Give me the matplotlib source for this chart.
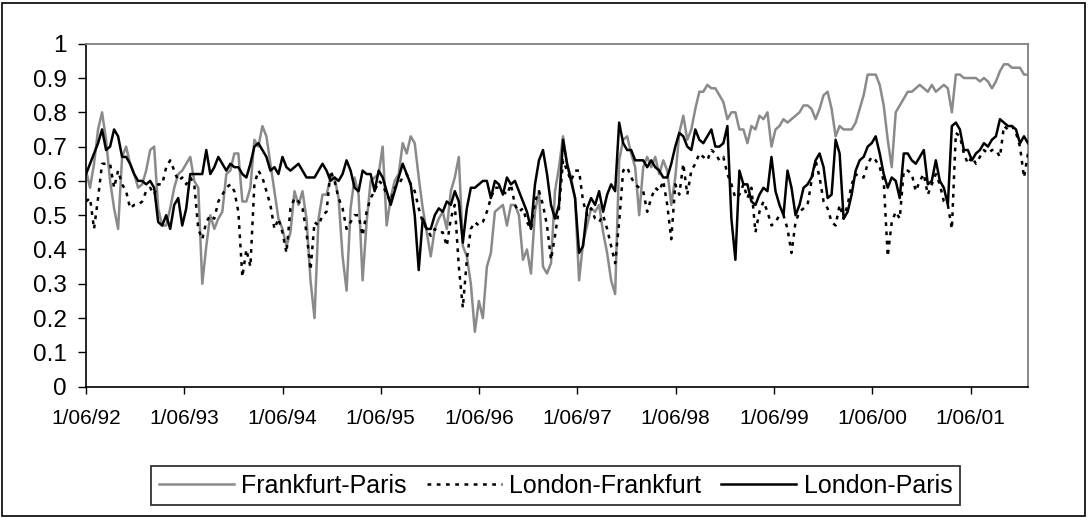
import matplotlib
matplotlib.use("Agg")
import matplotlib.pyplot as plt
from matplotlib.patches import Rectangle
import pandas as pd

plt.rcParams['font.family'] = ['Liberation Sans', 'DejaVu Sans']

# ---- data (regular time grid June 1992 - Dec 2001) ----
start_date = "1992-06-01"
end_date = "2001-12-31"

frankfurt_paris = [
    0.63,0.58,0.65,0.75,0.80,0.72,0.60,0.52,0.46,0.67,0.70,0.65,0.62,0.58,0.59,0.63,0.69,0.70,0.52,0.47,0.47,0.52,0.58,0.62,0.63,0.65,0.67,0.60,0.58,
    0.30,0.41,0.50,0.46,0.49,0.51,0.62,0.63,0.68,0.68,0.54,0.54,0.58,0.72,0.70,0.76,0.73,0.65,0.57,0.49,0.46,0.41,0.45,0.57,0.53,0.57,0.49,0.31,0.20,0.49,
    0.56,0.56,0.61,0.61,0.55,0.38,0.28,0.52,0.61,0.56,0.31,0.48,0.60,0.61,0.62,0.70,0.47,0.55,0.60,0.62,0.71,0.68,0.73,0.71,0.61,0.52,0.45,0.38,0.46,0.49,
    0.51,0.46,0.57,0.61,0.67,0.41,0.38,0.30,0.16,0.25,0.20,0.35,0.39,0.51,0.52,0.53,0.47,0.53,0.53,0.50,0.37,0.40,0.33,0.51,0.57,0.35,0.33,0.36,0.57,0.64,
    0.73,0.65,0.61,0.55,0.31,0.42,0.47,0.52,0.51,0.53,0.45,0.39,0.31,0.27,0.66,0.72,0.73,0.68,0.64,0.50,0.64,0.67,0.64,0.67,0.62,0.66,0.63,0.53,0.61,0.74,
    0.79,0.72,0.75,0.81,0.86,0.86,0.88,0.87,0.87,0.85,0.83,0.78,0.80,0.80,0.75,0.75,0.71,0.76,0.75,0.79,0.78,0.80,0.70,0.75,0.76,0.78,0.77,0.78,0.79,0.80,
    0.82,0.82,0.81,0.78,0.81,0.85,0.86,0.81,0.73,0.76,0.75,0.75,0.75,0.77,0.81,0.85,0.91,0.91,0.91,0.88,0.82,0.72,0.64,0.80,0.82,0.84,0.86,0.86,0.87,0.88,
    0.87,0.86,0.88,0.86,0.87,0.88,0.87,0.80,0.91,0.91,0.90,0.90,0.90,0.90,0.89,0.90,0.89,0.87,0.89,0.92,0.94,0.94,0.93,0.93,0.93,0.91,0.91,
]

london_frankfurt = [
    0.54,0.55,0.46,0.55,0.65,0.65,0.65,0.58,0.63,0.59,0.57,0.52,0.53,0.53,0.54,0.57,0.58,0.56,0.59,0.59,0.64,0.66,0.63,0.60,0.61,0.59,0.61,0.59,0.46,
    0.43,0.48,0.50,0.49,0.54,0.56,0.58,0.59,0.57,0.51,0.32,0.40,0.35,0.59,0.63,0.61,0.57,0.53,0.46,0.49,0.45,0.39,0.52,0.55,0.54,0.52,0.45,0.34,0.48,0.47,
    0.50,0.51,0.63,0.60,0.55,0.52,0.46,0.48,0.50,0.50,0.44,0.51,0.55,0.57,0.60,0.59,0.56,0.54,0.58,0.59,0.61,0.62,0.59,0.57,0.52,0.48,0.46,0.44,0.46,0.45,
    0.45,0.41,0.49,0.53,0.35,0.23,0.37,0.46,0.48,0.47,0.48,0.51,0.55,0.58,0.58,0.57,0.56,0.59,0.53,0.51,0.52,0.48,0.46,0.54,0.57,0.53,0.47,0.37,0.44,0.52,
    0.66,0.63,0.60,0.63,0.63,0.54,0.50,0.52,0.49,0.48,0.50,0.46,0.41,0.36,0.48,0.63,0.64,0.61,0.59,0.58,0.57,0.51,0.55,0.58,0.57,0.60,0.53,0.43,0.59,0.56,
    0.65,0.56,0.63,0.65,0.68,0.67,0.66,0.69,0.68,0.66,0.67,0.62,0.59,0.55,0.56,0.59,0.55,0.58,0.45,0.51,0.54,0.51,0.47,0.48,0.50,0.50,0.46,0.39,0.48,0.51,
    0.52,0.53,0.60,0.66,0.61,0.54,0.52,0.48,0.47,0.53,0.49,0.53,0.59,0.62,0.61,0.61,0.65,0.67,0.66,0.64,0.60,0.38,0.48,0.51,0.49,0.63,0.63,0.62,0.57,0.60,
    0.62,0.56,0.59,0.62,0.59,0.54,0.53,0.46,0.74,0.73,0.68,0.65,0.67,0.65,0.67,0.69,0.68,0.69,0.69,0.67,0.76,0.75,0.76,0.74,0.70,0.61,0.68,
]

london_paris = [
    0.62,0.65,0.68,0.71,0.75,0.69,0.70,0.75,0.73,0.67,0.67,0.65,0.62,0.60,0.60,0.59,0.60,0.58,0.48,0.47,0.50,0.46,0.53,0.55,0.47,0.52,0.62,0.62,0.62,
    0.62,0.69,0.62,0.64,0.67,0.65,0.63,0.65,0.64,0.64,0.62,0.61,0.65,0.70,0.71,0.69,0.67,0.63,0.64,0.62,0.67,0.64,0.63,0.64,0.65,0.63,0.61,0.61,0.61,0.63,
    0.65,0.63,0.60,0.61,0.60,0.62,0.66,0.63,0.58,0.57,0.63,0.62,0.62,0.57,0.63,0.61,0.57,0.53,0.57,0.61,0.65,0.62,0.59,0.50,0.34,0.49,0.46,0.46,0.50,0.52,
    0.51,0.54,0.53,0.57,0.54,0.42,0.52,0.58,0.58,0.59,0.60,0.60,0.55,0.60,0.59,0.56,0.61,0.59,0.60,0.57,0.54,0.51,0.46,0.59,0.66,0.69,0.62,0.53,0.49,0.53,
    0.72,0.65,0.60,0.55,0.39,0.41,0.52,0.55,0.53,0.57,0.51,0.56,0.59,0.57,0.77,0.71,0.69,0.69,0.66,0.66,0.66,0.64,0.66,0.64,0.63,0.61,0.61,0.65,0.70,0.74,
    0.73,0.70,0.69,0.75,0.72,0.71,0.73,0.75,0.70,0.70,0.71,0.76,0.49,0.37,0.63,0.59,0.59,0.54,0.53,0.56,0.58,0.57,0.67,0.57,0.53,0.50,0.63,0.58,0.50,0.53,
    0.58,0.59,0.61,0.66,0.68,0.64,0.55,0.56,0.72,0.68,0.49,0.51,0.56,0.63,0.66,0.67,0.70,0.71,0.73,0.68,0.62,0.58,0.61,0.60,0.55,0.68,0.68,0.66,0.65,0.67,
    0.69,0.59,0.60,0.66,0.60,0.58,0.53,0.76,0.77,0.75,0.69,0.69,0.66,0.68,0.69,0.71,0.70,0.72,0.73,0.78,0.77,0.76,0.76,0.75,0.71,0.73,0.71,
]

series_names = ["Frankfurt-Paris", "London-Frankfurt", "London-Paris"]

tick_dates = ["1992-06-01", "1993-06-01", "1994-06-01", "1995-06-01", "1996-06-01",
              "1997-06-01", "1998-06-01", "1999-06-01", "2000-06-01", "2001-06-01"]
tick_labels = ["1/06/92", "1/06/93", "1/06/94", "1/06/95", "1/06/96",
               "1/06/97", "1/06/98", "1/06/99", "1/06/00", "1/06/01"]

y_ticks = [0, 0.1, 0.2, 0.3, 0.4, 0.5, 0.6, 0.7, 0.8, 0.9, 1]
y_labels = ["0", "0.1", "0.2", "0.3", "0.4", "0.5", "0.6", "0.7", "0.8", "0.9", "1"]

# ---- figure ----
dates = pd.date_range(start_date, end_date, periods=len(london_paris))

fig = plt.figure(figsize=(10.89, 5.18), dpi=100)
fig.patch.set_facecolor("white")
ax = fig.add_axes([0.0790, 0.2535, 0.8650, 0.6621])

gray = "#8a8a8a"
ax.plot(dates, frankfurt_paris, color=gray, lw=1.8, label=series_names[0], zorder=2)
ax.plot(dates, london_frankfurt, color="black", lw=1.8, dashes=(1.5, 2.2),
        label=series_names[1], zorder=3)
ax.plot(dates, london_paris, color="black", lw=1.8, label=series_names[2], zorder=4)

ax.set_xlim(pd.Timestamp(start_date), pd.Timestamp(end_date))
ax.set_ylim(0, 1)

ax.set_xticks([pd.Timestamp(d) for d in tick_dates])
ax.set_xticklabels(tick_labels, fontsize=15)
ax.set_yticks(y_ticks)
ax.set_yticklabels(y_labels, fontsize=17.5)

ax.tick_params(axis="y", direction="out", length=6, width=1, pad=8, colors="black")
ax.tick_params(axis="x", direction="out", length=5, width=1, pad=11, colors="black")

for side in ("top", "right"):
    ax.spines[side].set_color("#808080")
    ax.spines[side].set_linewidth(1.3)
for side in ("left", "bottom"):
    ax.spines[side].set_color("black")
    ax.spines[side].set_linewidth(1.2)

leg = fig.legend(loc="center", bbox_to_anchor=(0.510, 0.0618), ncol=3,
                 frameon=True, fancybox=False, fontsize=18, handlelength=3.0,
                 handletextpad=0.3, columnspacing=0.8, borderpad=0.3)
leg.get_frame().set_edgecolor("black")
leg.get_frame().set_linewidth(1.3)

# outer chart border
fig.add_artist(Rectangle((0.002, 0.004), 0.994, 0.991, transform=fig.transFigure,
                         fill=False, edgecolor="black", linewidth=1.2))

fig.savefig("out.png", dpi=100)
